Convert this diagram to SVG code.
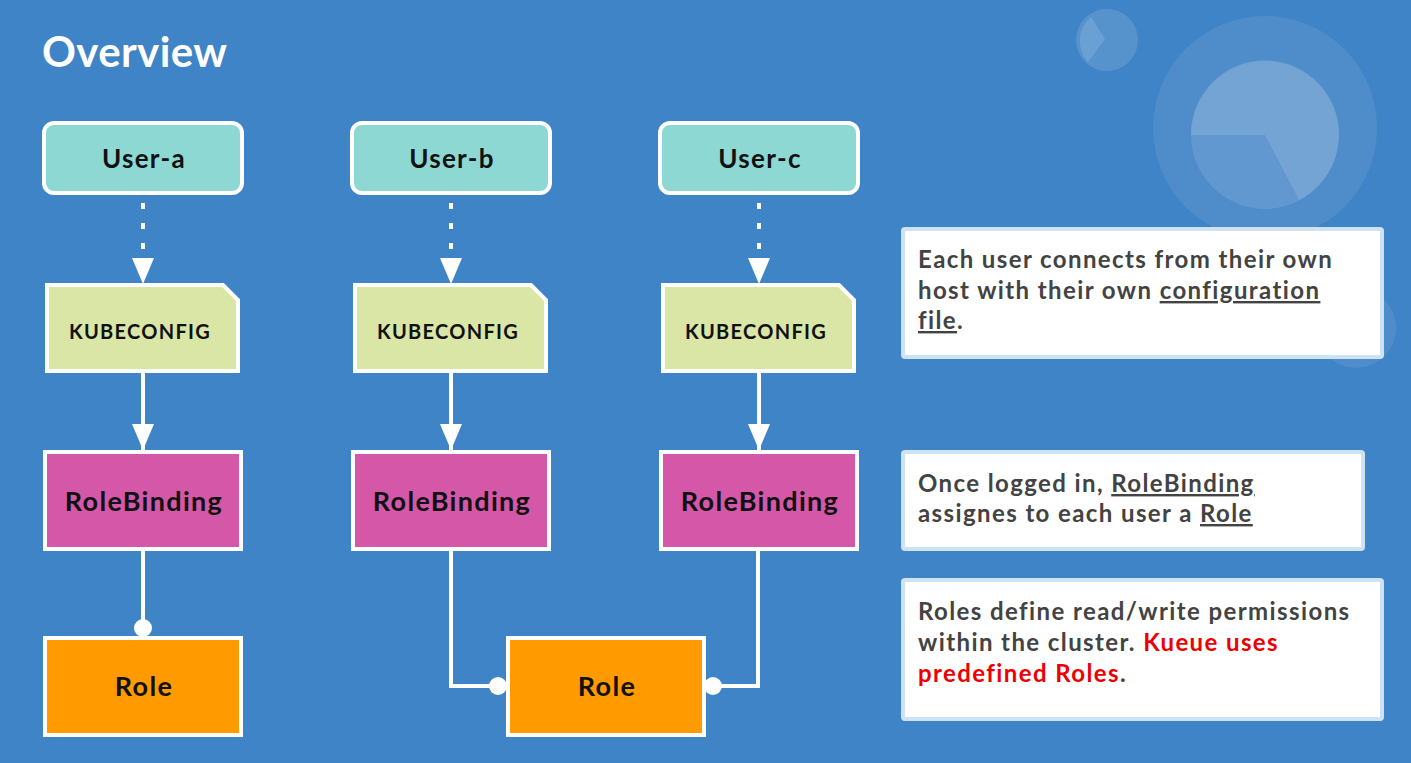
<svg xmlns="http://www.w3.org/2000/svg" width="1411" height="763" viewBox="0 0 1411 763">
<defs>
<style>
.bg{fill:#3f84c6}
.user{fill:#8ed8d3;stroke:#fff;stroke-width:4}
.kube{fill:#d9e6a6;stroke:#fff;stroke-width:4}
.rb{fill:#d557a8;stroke:#fff;stroke-width:4}
.role{fill:#ff9a00;stroke:#fff;stroke-width:4}
.nt{font-family:Lato,"Noto Sans",sans-serif;font-weight:700;fill:#111;text-anchor:middle;letter-spacing:1.3px}
.box{fill:#fff;stroke:#cfe2f3;stroke-width:4}
.bt{font-family:Lato,"Noto Sans",sans-serif;font-weight:700;fill:#434343;font-size:24px;letter-spacing:1.4px}
.red{fill:#ee0000}
.u{text-decoration:underline}
.dot{stroke:#fff;stroke-width:4;fill:none;stroke-dasharray:6 14}
.line{stroke:#fff;stroke-width:4;fill:none}
</style>
<marker id="tri" viewBox="0 0 26 22" refX="26" refY="11" markerWidth="26" markerHeight="22" markerUnits="userSpaceOnUse" orient="auto">
<path d="M0,0 L26,11 L0,22 Z" fill="#fff"/>
</marker>
</defs>
<rect class="bg" x="0" y="0" width="1411" height="763"/>

<g id="decoration">
<circle cx="1107" cy="40" r="31" fill="#fff" fill-opacity="0.12"/>
<path d="M1105,39 L1091,17 A31,31 0 0 0 1088,62 Z" fill="#fff" fill-opacity="0.12"/>
<circle cx="1265" cy="128" r="112" fill="#fff" fill-opacity="0.08"/>
<circle cx="1265" cy="135" r="74" fill="#fff" fill-opacity="0.1"/>
<path d="M1265,135 L1191,135 A74,74 0 1 1 1299,200 Z" fill="#fff" fill-opacity="0.12"/>
<circle cx="1356" cy="328" r="40" fill="#fff" fill-opacity="0.08"/>
</g>

<text x="42" y="67" font-family="Lato,'Noto Sans',sans-serif" font-weight="700" font-size="42" fill="#fff" letter-spacing="0.4">Overview</text>

<g id="connectors">
<line class="dot" x1="143" y1="203" x2="143" y2="284" marker-end="url(#tri)"/>
<line class="dot" x1="451" y1="203" x2="451" y2="284" marker-end="url(#tri)"/>
<line class="dot" x1="759" y1="203" x2="759" y2="284" marker-end="url(#tri)"/>
<line class="line" x1="143" y1="372" x2="143" y2="450" marker-end="url(#tri)"/>
<line class="line" x1="451" y1="372" x2="451" y2="450" marker-end="url(#tri)"/>
<line class="line" x1="759" y1="372" x2="759" y2="450" marker-end="url(#tri)"/>
<line class="line" x1="143" y1="551" x2="143" y2="628"/>
<circle cx="143" cy="628" r="9" fill="#fff"/>
<polyline class="line" points="451,551 451,686 498,686"/>
<circle cx="498" cy="686" r="9" fill="#fff"/>
<polyline class="line" points="758,551 758,686 713,686"/>
<circle cx="713" cy="686" r="9" fill="#fff"/>
</g>

<g id="user-a"><rect class="user" x="44" y="123" width="198" height="70" rx="10"/><text class="nt" x="144" y="168" font-size="26">User-a</text></g>
<g id="user-b"><rect class="user" x="352" y="123" width="198" height="70" rx="10"/><text class="nt" x="452" y="168" font-size="26">User-b</text></g>
<g id="user-c"><rect class="user" x="660" y="123" width="198" height="70" rx="10"/><text class="nt" x="760" y="168" font-size="26">User-c</text></g>

<g id="kubeconfig-a"><path class="kube" d="M47,285 L223,285 L238,300 L238,371 L47,371 Z"/><text class="nt" x="140" y="339" font-size="20" letter-spacing="1">KUBECONFIG</text></g>
<g id="kubeconfig-b"><path class="kube" d="M355,285 L531,285 L546,300 L546,371 L355,371 Z"/><text class="nt" x="448" y="339" font-size="20" letter-spacing="1">KUBECONFIG</text></g>
<g id="kubeconfig-c"><path class="kube" d="M663,285 L839,285 L854,300 L854,371 L663,371 Z"/><text class="nt" x="756" y="339" font-size="20" letter-spacing="1">KUBECONFIG</text></g>

<g id="rolebinding-a"><rect class="rb" x="45" y="452" width="196" height="97"/><text class="nt" x="144" y="511" font-size="27">RoleBinding</text></g>
<g id="rolebinding-b"><rect class="rb" x="353" y="452" width="196" height="97"/><text class="nt" x="452" y="511" font-size="27">RoleBinding</text></g>
<g id="rolebinding-c"><rect class="rb" x="661" y="452" width="196" height="97"/><text class="nt" x="760" y="511" font-size="27">RoleBinding</text></g>

<g id="role-a"><rect class="role" x="45" y="638" width="196" height="97"/><text class="nt" x="144" y="696" font-size="27">Role</text></g>
<g id="role-shared"><rect class="role" x="508" y="638" width="196" height="97"/><text class="nt" x="607" y="696" font-size="27">Role</text></g>

<g id="note-1">
<rect class="box" x="903" y="229" width="479" height="128" rx="2"/>
<text class="bt" x="918" y="268">Each user connects from their own</text>
<text class="bt" x="918" y="299">host with their own <tspan class="u">configuration</tspan></text>
<text class="bt" x="918" y="329"><tspan class="u">file</tspan>.</text>
</g>
<g id="note-2">
<rect class="box" x="903" y="452" width="460" height="97" rx="2"/>
<text class="bt" x="918" y="492">Once logged in, <tspan class="u">RoleBinding</tspan></text>
<text class="bt" x="918" y="522">assignes to each user a <tspan class="u">Role</tspan></text>
</g>
<g id="note-3">
<rect class="box" x="903" y="580" width="479" height="139" rx="2"/>
<text class="bt" x="918" y="620">Roles define read/write permissions</text>
<text class="bt" x="918" y="651">within the cluster. <tspan class="red">Kueue uses</tspan></text>
<text class="bt" x="918" y="682"><tspan class="red">predefined Roles</tspan>.</text>
</g>
</svg>
